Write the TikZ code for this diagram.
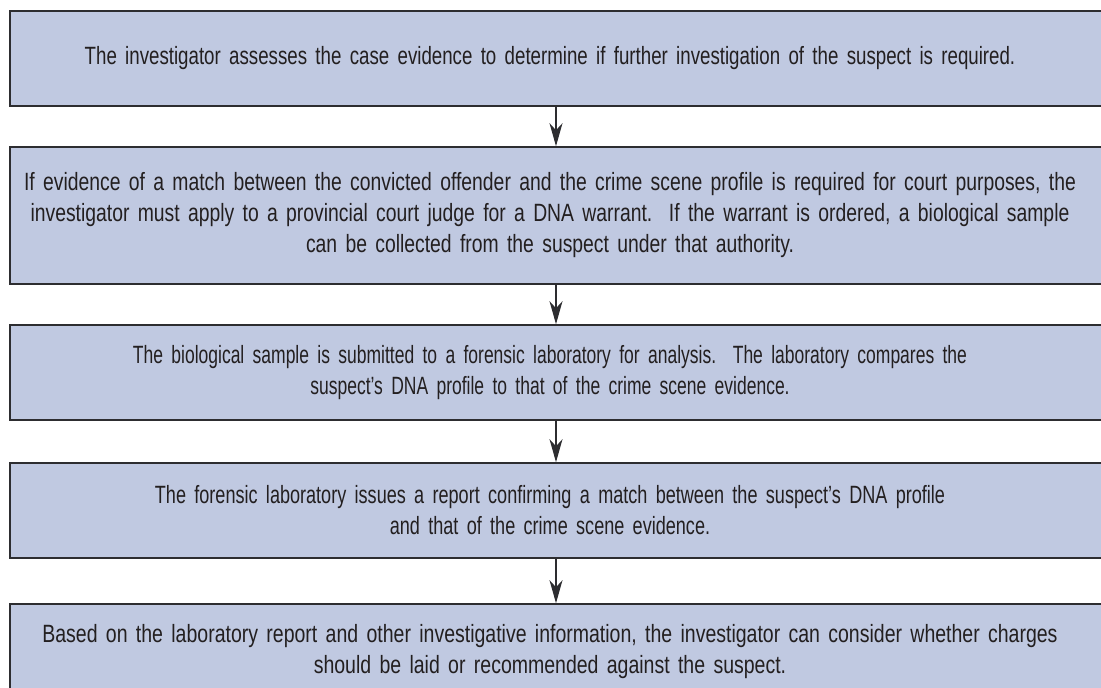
\documentclass[tikz,border=0pt]{standalone}
\usepackage{fontspec}
\setmainfont{Liberation Sans}
\usetikzlibrary{arrows.meta}
\definecolor{stepfill}{RGB}{192,201,225}
\definecolor{stepline}{RGB}{45,45,48}
\definecolor{steptext}{RGB}{35,31,32}
\begin{document}
\begin{tikzpicture}[x=1bp,y=-1bp,step box/.style={draw=stepline, fill=stepfill, line width=1.6bp, minimum width=1100bp, minimum height=95bp, inner xsep=10bp, inner ysep=0bp, text width=1080bp, text=steptext, font=\addfontfeatures{FakeStretch=#1}\fontsize{25bp}{31bp}\selectfont, execute at begin node={\centering\rightskip=20bp plus 1fil\relax}},step box/.default=0.78,flow arrow/.style={draw=stepline, line width=1.3bp, -{Stealth[length=23bp,width=13bp,inset=7bp]}}]%
\path[use as bounding box] (0,0) rectangle (1101,688);%
\clip (0,0) rectangle (1101,688);%
  % Step 1%
\node[step box=0.748] (assess) at (560,58.5) {The investigator assesses the case evidence to determine if further investigation of the suspect is required.};%
  % Step 2%
\node[step box=0.774, minimum height=137bp] (warrant) at (560,215.5) {If evidence of a match between the convicted offender and the crime scene profile is required for court purposes, the\\ investigator must apply to a provincial court judge for a DNA warrant.\ \ If the warrant is ordered, a biological sample\\ can be collected from the suspect under that authority.};%
  % Step 3%
\node[step box=0.70] (submit) at (560,372.5) {The biological sample is submitted to a forensic laboratory for analysis.\ \ The laboratory compares the\\ suspect's DNA profile to that of the crime scene evidence.};%
  % Step 4%
\node[step box=0.723] (report) at (560,510.5) {The forensic laboratory issues a report confirming a match between the suspect's DNA profile\\ and that of the crime scene evidence.};%
  % Step 5%
\node[step box=0.78] (charges) at (560,651.5) {Based on the laboratory report and other investigative information, the investigator can consider whether charges\\ should be laid or recommended against the suspect.};%
\draw[flow arrow] (assess.south -| 556,0) -- (warrant.north -| 556,0);%
\draw[flow arrow] (warrant.south -| 556,0) -- (submit.north -| 556,0);%
\draw[flow arrow] (submit.south -| 556,0) -- (report.north -| 556,0);%
\draw[flow arrow] (report.south -| 556,0) -- (charges.north -| 556,0);%
\end{tikzpicture}
\end{document}
